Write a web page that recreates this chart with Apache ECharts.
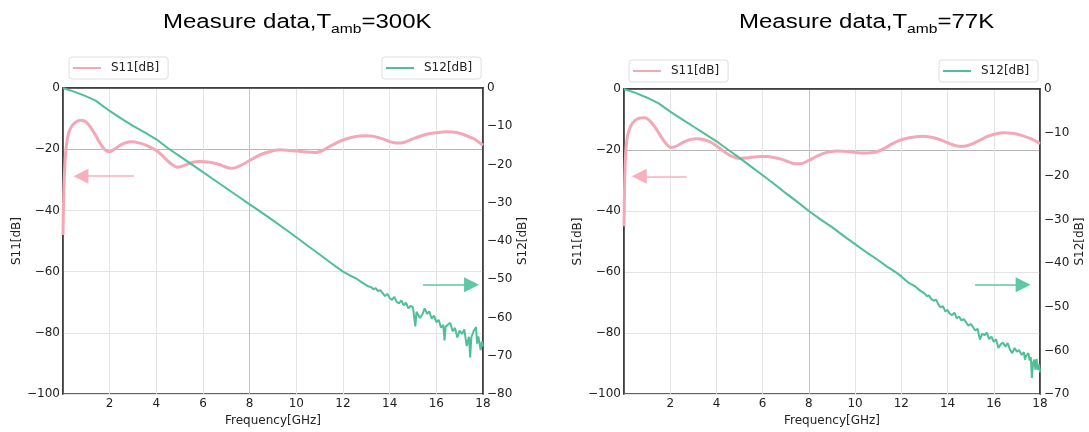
<!DOCTYPE html>
<html>
<head>
<meta charset="utf-8">
<script src="https://cdn.jsdelivr.net/npm/echarts@6/dist/echarts.min.js"></script>
<style>
  html, body { margin: 0; padding: 0; background: #fff; }
  #chart { width: 1089px; height: 432px; }
</style>
</head>
<body>
<div id="chart"></div>
<script>
// ---------- labels ----------
const titles = ['Measure data,T', 'amb', '=300K', '=77K'];
const s11Name = 'S11[dB]';
const s12Name = 'S12[dB]';
const xTicks = [0, 18, 2];
const leftTicks = [-100, 0, 20];
const rightTicks300 = [-80, 0, 10];
const rightTicks77 = [-70, 0, 10];

// ---------- data: Tamb = 300K ----------
const freqS11_300K = [0, 0.03, 0.08, 0.15, 0.25, 0.4, 0.6, 0.8, 1.0, 1.2, 1.4, 1.6, 1.8, 2.0, 2.2, 2.5, 2.9, 3.3, 3.6, 4.0, 4.3, 4.6, 4.9, 5.2, 5.5, 5.8, 6.1, 6.4, 6.7, 7.0, 7.2, 7.4, 7.7, 8.0, 8.3, 8.6, 9.0, 9.3, 9.6, 10.0, 10.4, 10.8, 11.1, 11.4, 11.7, 12.0, 12.4, 12.7, 13.0, 13.3, 13.7, 14.0, 14.3, 14.6, 15.0, 15.4, 15.8, 16.1, 16.4, 16.7, 17.0, 17.3, 17.6, 18.0];
const s11_300K = [-48, -35, -25, -18.5, -14.5, -12.2, -10.9, -10.5, -11.2, -13.0, -15.5, -18.2, -20.2, -20.8, -20.0, -18.5, -17.6, -18.0, -18.8, -20.4, -22.4, -24.6, -25.9, -25.3, -24.4, -24.0, -24.1, -24.4, -25.0, -25.9, -26.2, -26.0, -25.0, -23.7, -22.4, -21.4, -20.5, -20.2, -20.3, -20.6, -20.9, -21.1, -20.5, -19.2, -18.0, -17.0, -16.1, -15.7, -15.6, -15.8, -16.6, -17.5, -18.0, -17.8, -16.6, -15.5, -14.8, -14.5, -14.3, -14.4, -14.8, -15.6, -16.6, -18.7];

const freqS12_300K = [0, 0.5, 1.0, 1.4, 2.0, 2.5, 3.0, 3.5, 4.0, 4.56, 5.0, 5.5, 6.0, 6.5, 7.0, 7.5, 8.0, 8.38, 9.0, 9.5, 10.0, 10.5, 11.0, 11.5, 12.0, 12.3, 12.6, 12.8, 13.0, 13.1, 13.2, 13.3, 13.4, 13.5, 13.6, 13.7, 13.8, 13.9, 14.0, 14.1, 14.2, 14.3, 14.4, 14.5, 14.6, 14.7, 14.8, 14.9, 15.0, 15.05, 15.1, 15.15, 15.2, 15.3, 15.4, 15.5, 15.6, 15.7, 15.8, 15.9, 16.0, 16.1, 16.2, 16.3, 16.35, 16.4, 16.5, 16.6, 16.7, 16.8, 16.9, 17.0, 17.1, 17.2, 17.3, 17.4, 17.45, 17.5, 17.6, 17.7, 17.75, 17.8, 17.9, 17.95, 18.0];
const s12_300K = [0, -1.0, -2.2, -3.3, -6.0, -8.0, -9.9, -11.6, -13.4, -16.0, -17.8, -19.9, -22.0, -24.1, -26.2, -28.3, -30.4, -32.0, -34.6, -36.8, -39.0, -41.3, -43.5, -45.8, -48.0, -49.0, -49.9, -50.8, -51.5, -51.9, -52.0, -52.6, -52.3, -53.1, -52.8, -53.6, -54.4, -53.8, -54.9, -55.4, -54.6, -55.9, -56.3, -55.5, -56.8, -56.1, -57.6, -56.9, -57.4, -59.8, -62.3, -58.5, -58.0, -60.1, -59.2, -57.6, -59.0, -58.4, -60.3, -59.5, -61.2, -60.6, -62.6, -61.9, -66.0, -62.4, -61.8, -61.4, -63.6, -62.7, -65.2, -63.4, -64.3, -63.1, -67.4, -65.0, -70.4, -65.2, -63.5, -62.5, -66.8, -64.9, -68.5, -66.2, -67.6];

// ---------- data: Tamb = 77K ----------
const freqS11_77K = [0, 0.03, 0.08, 0.15, 0.3, 0.5, 0.7, 0.9, 1.1, 1.35, 1.6, 1.85, 2.05, 2.3, 2.6, 2.9, 3.15, 3.5, 3.8, 4.1, 4.4, 4.7, 5.0, 5.3, 5.6, 5.9, 6.2, 6.5, 6.8, 7.1, 7.4, 7.7, 8.0, 8.3, 8.6, 8.9, 9.2, 9.5, 9.8, 10.1, 10.4, 10.7, 11.0, 11.3, 11.6, 11.9, 12.2, 12.5, 12.9, 13.3, 13.6, 13.9, 14.2, 14.5, 14.8, 15.1, 15.4, 15.7, 16.0, 16.4, 16.8, 17.2, 17.6, 18.0];
const s11_77K = [-45, -30, -20, -15.5, -12, -10.2, -9.5, -9.4, -10.3, -12.6, -15.6, -18.2, -19.2, -18.6, -17.3, -16.5, -16.3, -16.7, -17.6, -19.2, -20.9, -22.2, -22.8, -22.6, -22.3, -22.1, -22.1, -22.5, -23.0, -23.8, -24.5, -24.4, -23.4, -22.2, -21.2, -20.6, -20.3, -20.4, -20.6, -20.9, -21.0, -20.9, -20.4, -19.3, -18.0, -16.9, -16.2, -15.8, -15.5, -15.8, -16.4, -17.3, -18.2, -18.8, -18.7, -17.9, -16.8, -15.6, -14.9, -14.3, -14.5, -15.2, -16.3, -17.9];

const freqS12_77K = [0, 0.5, 1.0, 1.5, 2.0, 2.5, 3.0, 3.5, 4.0, 4.52, 5.0, 5.5, 6.0, 6.5, 7.0, 7.5, 8.0, 8.5, 9.0, 9.5, 10.0, 10.5, 11.0, 11.4, 11.75, 12.0, 12.3, 12.6, 12.8, 13.0, 13.1, 13.2, 13.3, 13.4, 13.5, 13.6, 13.7, 13.8, 13.9, 14.0, 14.1, 14.2, 14.3, 14.4, 14.5, 14.6, 14.7, 14.8, 14.9, 15.0, 15.1, 15.2, 15.3, 15.4, 15.5, 15.6, 15.7, 15.8, 15.9, 16.0, 16.1, 16.2, 16.3, 16.4, 16.5, 16.6, 16.7, 16.8, 16.9, 17.0, 17.1, 17.2, 17.3, 17.35, 17.4, 17.5, 17.55, 17.6, 17.65, 17.7, 17.75, 17.8, 17.85, 17.9, 17.95, 18.0];
const s12_77K = [0, -0.9, -2.0, -3.3, -5.2, -6.9, -8.6, -10.3, -12.0, -14.0, -15.8, -17.8, -19.8, -21.8, -23.9, -25.9, -28.0, -29.9, -31.7, -33.7, -35.6, -37.5, -39.3, -40.8, -42.0, -43.0, -44.4, -45.3, -46.2, -46.9, -47.5, -47.4, -48.2, -48.6, -48.3, -49.4, -50.1, -49.8, -51.0, -50.7, -51.6, -51.9, -51.3, -52.6, -52.2, -53.1, -52.8, -53.5, -54.3, -53.9, -54.6, -55.4, -55.0, -57.5, -56.1, -56.5, -55.9, -57.4, -56.8, -58.0, -57.4, -59.4, -58.6, -58.2, -59.1, -58.3, -59.8, -60.6, -59.4, -60.3, -59.9, -61.0, -60.4, -62.1, -61.2, -60.6, -62.3, -61.5, -66.3, -62.8, -62.1, -64.4, -61.9, -64.4, -63.2, -65.0];

// arrows: [fromGHz, toGHz, value]
const arrowS11_300K = [3.04, 0.77, -28.8];
const arrowS12_300K = [15.43, 17.51, -51.4];
const arrowS11_77K = [2.71, 0.66, -28.6];
const arrowS12_77K = [15.19, 17.27, -44.9];

// ---------- chart ----------
const pairs = (f, v) => f.map((x, i) => [x, v[i]]);
const minus = v => String(v).replace('-', '\u2212');
const FONT = 'DejaVu Sans';
const TXT = '#222';
const PINK = '#f2a8b6';
const GREEN = '#4fbf97';
const FS = 12;

function xAxis(grid) {
  return {
    gridIndex: grid, type: 'value', min: xTicks[0], max: xTicks[1], interval: xTicks[2],
    name: 'Frequency[GHz]', nameLocation: 'middle', nameGap: 13,
    nameTextStyle: { fontFamily: FONT, fontSize: FS, color: TXT },
    axisLine: { show: true, lineStyle: { color: '#333', width: 1.5 } },
    axisTick: { show: false },
    axisLabel: { margin: 4, fontFamily: FONT, fontSize: FS, color: TXT, formatter: v => v === 0 ? '' : minus(v) },
    splitLine: { show: true, lineStyle: { color: ['#e4e4e4', '#e4e4e4', '#e4e4e4', '#e4e4e4', '#c4c4c4', '#e4e4e4', '#e4e4e4', '#e4e4e4', '#e4e4e4', '#e4e4e4'], width: 1 } }
  };
}
function yLeft(grid) {
  return {
    gridIndex: grid, type: 'value', position: 'left', min: leftTicks[0], max: leftTicks[1], interval: leftTicks[2],
    name: s11Name, nameLocation: 'middle', nameGap: 40,
    nameTextStyle: { fontFamily: FONT, fontSize: FS, color: TXT },
    axisLine: { show: true, lineStyle: { color: '#333', width: 1.5 } },
    axisTick: { show: false },
    axisLabel: { margin: 3, fontFamily: FONT, fontSize: FS, color: TXT, formatter: minus },
    splitLine: { show: true, lineStyle: { color: ['#e4e4e4', '#e4e4e4', '#e4e4e4', '#e4e4e4', '#b8b8b8', '#e4e4e4'], width: 1 } }
  };
}
function yRight(grid, t) {
  return {
    gridIndex: grid, type: 'value', position: 'right', min: t[0], max: t[1], interval: t[2],
    name: s12Name, nameLocation: 'middle', nameGap: 34,
    nameTextStyle: { fontFamily: FONT, fontSize: FS, color: TXT },
    axisLine: { show: true, lineStyle: { color: '#333', width: 1.5 } },
    axisTick: { show: false },
    axisLabel: { margin: 4, fontFamily: FONT, fontSize: FS, color: TXT, formatter: minus },
    splitLine: { show: false }
  };
}
function arrow(a, color) {
  return {
    silent: true, symbol: ['none', 'triangle'], symbolSize: [15, 15],
    label: { show: false },
    lineStyle: { color: color, width: 1.5, type: 'solid' },
    data: [[{ coord: [a[0], a[2]] }, { coord: [a[1], a[2]] }]]
  };
}
function legend(left, top, name) {
  return {
    left: left, top: top, data: [name], orient: 'horizontal',
    icon: 'rect', itemWidth: 28, itemHeight: 2, padding: [4, 9, 4, 4],
    backgroundColor: '#fff', borderColor: '#dedede', borderWidth: 1, borderRadius: 3,
    textStyle: { fontFamily: FONT, fontSize: FS, color: TXT, padding: [0, 0, 0, 5], lineHeight: 14 }
  };
}
function titleText(x, tail) {
  return {
    type: 'text', x: x, y: 8, scaleX: 1.2, silent: true,
    style: {
      text: '{a|' + titles[0] + '}{s|' + titles[1] + '}{a|' + tail + '}',
      rich: {
        a: { fontFamily: 'Liberation Sans', fontSize: 20, fill: '#000', lineHeight: 24, verticalAlign: 'bottom' },
        s: { fontFamily: 'Liberation Sans', fontSize: 13, fill: '#000', lineHeight: 14, verticalAlign: 'bottom', padding: [0, 0, -4, 0] }
      }
    }
  };
}

const option = {
  animation: false,
  backgroundColor: '#fff',
  graphic: [titleText(163, titles[2]), titleText(739, titles[3])],
  legend: [legend(69, 57, s11Name), legend(382, 57, s12Name), legend(629, 60, s11Name), legend(939, 60, s12Name)],
  grid: [
    { left: 63, top: 88, width: 420, height: 310, show: true, borderColor: '#333', borderWidth: 1.5, backgroundColor: 'transparent' },
    { left: 624, top: 89, width: 416, height: 309, show: true, borderColor: '#333', borderWidth: 1.5, backgroundColor: 'transparent' }
  ],
  xAxis: [xAxis(0), xAxis(1)],
  yAxis: [yLeft(0), yRight(0, rightTicks300), yLeft(1), yRight(1, rightTicks77)],
  series: [
    { name: s11Name, type: 'line', xAxisIndex: 0, yAxisIndex: 0, symbol: 'none', smooth: 0.3, color: PINK,
      lineStyle: { width: 3, color: PINK }, data: pairs(freqS11_300K, s11_300K), markLine: arrow(arrowS11_300K, '#f7b0bc') },
    { name: s12Name, type: 'line', xAxisIndex: 0, yAxisIndex: 1, symbol: 'none', color: GREEN,
      lineStyle: { width: 2, color: GREEN }, data: pairs(freqS12_300K, s12_300K), markLine: arrow(arrowS12_300K, '#5cc9a2') },
    { name: s11Name, type: 'line', xAxisIndex: 1, yAxisIndex: 2, symbol: 'none', smooth: 0.3, color: PINK,
      lineStyle: { width: 3, color: PINK }, data: pairs(freqS11_77K, s11_77K), markLine: arrow(arrowS11_77K, '#f7b0bc') },
    { name: s12Name, type: 'line', xAxisIndex: 1, yAxisIndex: 3, symbol: 'none', color: GREEN,
      lineStyle: { width: 2, color: GREEN }, data: pairs(freqS12_77K, s12_77K), markLine: arrow(arrowS12_77K, '#5cc9a2') }
  ]
};
echarts.init(document.getElementById('chart'), null, { renderer: 'canvas' }).setOption(option);
</script>
</body>
</html>
